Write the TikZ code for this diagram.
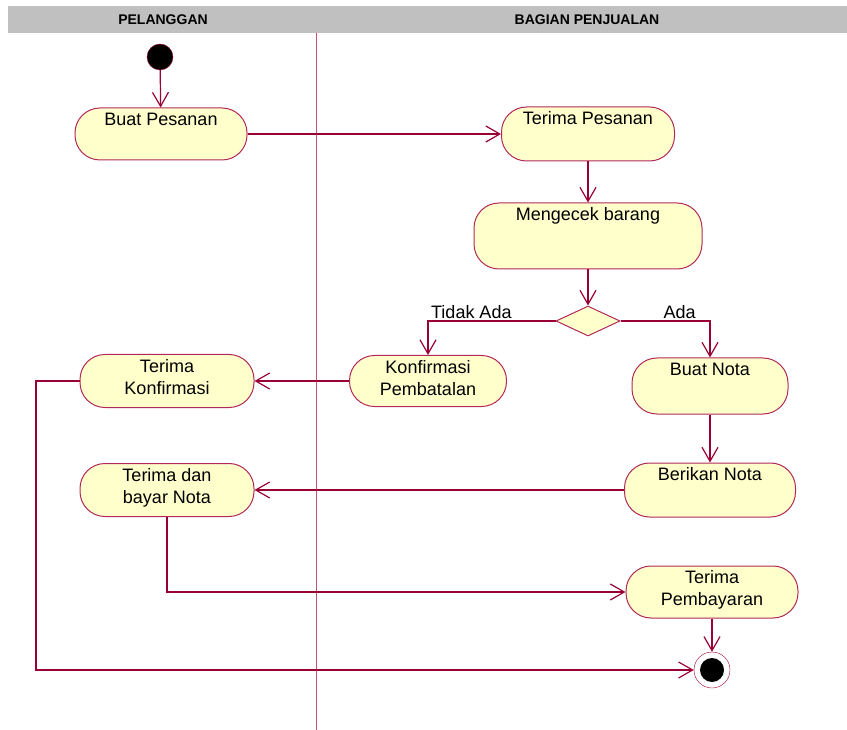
\documentclass[tikz,border=0pt]{standalone}
\usepackage{fontspec}
\setmainfont{Liberation Sans}
\usetikzlibrary{shapes.geometric, arrows.meta, positioning}

\definecolor{alurmerah}{RGB}{153,0,51}
\definecolor{aktisi}{RGB}{255,255,204}
\definecolor{aktgaris}{RGB}{178,40,90}
\definecolor{jalurabu}{RGB}{192,192,192}
\definecolor{jalurgaris}{RGB}{200,80,120}

\begin{document}
\begin{tikzpicture}[x=1pt, y=-1pt, font=\fontsize{18}{22}\selectfont,
    act/.style n args={3}{draw=aktgaris, fill=aktisi, line width=1pt,
      rounded corners=25pt, minimum width=#1, minimum height=#2,
      inner sep=0pt, label={[akttext]north:#3}},
    akttext/.style={anchor=north, inner sep=5pt, align=center},
    cabang/.style={diamond, draw=aktgaris, fill=aktisi, line width=1pt,
      minimum width=64, minimum height=30, aspect=2.13, inner sep=0pt},
    mulai/.style={circle, draw=alurmerah, fill=black, minimum size=26, inner sep=0pt},
    akhir/.style={circle, draw=alurmerah, fill=white, minimum size=36, inner sep=0pt,
      path picture={\fill[black] (path picture bounding box.center) circle (12);}},
    alur/.style={->, >={Straight Barb[length=14pt,width=16pt]}, draw=alurmerah, line width=1.2pt},
    judul/.style={font=\bfseries\fontsize{14}{16}\selectfont}]
  \useasboundingbox (0,0) rectangle (847,730);

  % swimlanes
  \fill[jalurabu] (8,6) rectangle (847,33);
  \node[judul] (jPelanggan) at (163,20) {PELANGGAN};
  \node[judul] (jPenjualan) at (587,20) {BAGIAN PENJUALAN};
  \draw[jalurgaris, line width=1pt] (316,33) -- (316,730);

  % states
  \node[mulai] (start) at (160,57) {};
  \node[act={172}{52}{Buat Pesanan}] (buat) at (161,134) {};
  \node[act={173}{54}{Terima Pesanan}] (tpesan) at (588,134) {};
  \node[act={228}{66}{Mengecek barang}] (cek) at (588,236) {};
  \node[cabang] (cabang) at (588,321) {};
  \node[act={157}{51}{Konfirmasi\\Pembatalan}] (batal) at (428,381) {};
  \node[act={156}{56}{Buat Nota}] (bnota) at (710,386) {};
  \node[act={174}{53}{Terima\\Konfirmasi}] (tkonf) at (167,381) {};
  \node[act={174}{53}{Terima dan\\bayar Nota}] (tbayar) at (167,490) {};
  \node[act={171}{54}{Berikan Nota}] (berikan) at (710,490) {};
  \node[act={172}{52}{Terima\\Pembayaran}] (tbayaran) at (712,592) {};
  \node[akhir] (selesai) at (712,670) {};
  \coordinate (belok) at (36,670);

  % transitions
  \draw[alur] (start) -- (buat);
  \draw[alur] (buat) -- (tpesan);
  \draw[alur] (tpesan) -- (cek);
  \draw[alur] (cek) -- (cabang);
  \draw[alur] (cabang.west) -| node[pos=0.33, above, inner sep=2pt] (lTidak) {Tidak Ada} (batal.north);
  \draw[alur] (cabang.east) -| node[pos=0.33, above, inner sep=2pt] (lAda) {Ada} (bnota.north);
  \draw[alur] (batal) -- (tkonf);
  \draw[alur] (bnota) -- (berikan);
  \draw[alur] (berikan) -- (tbayar);
  \draw[alur] (tbayar.south) |- (tbayaran.west);
  \draw[alur] (tbayaran) -- (selesai);
  \draw[alur] (tkonf.west) -| (belok) -- (selesai);
\end{tikzpicture}
\end{document}
